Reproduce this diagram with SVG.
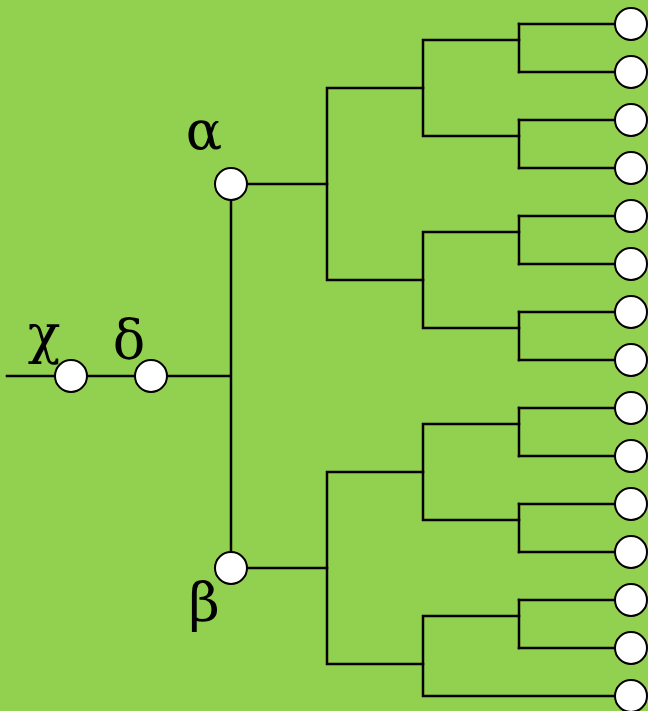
<svg xmlns="http://www.w3.org/2000/svg" width="648" height="711" viewBox="0 0 648 711">
<style>
.e{stroke:#000;stroke-width:2.5;fill:none;stroke-linecap:square}
.n{fill:#fff;stroke:#000;stroke-width:2}
.m{font-family:"DejaVu Serif","Liberation Serif",serif;font-size:54px;fill:#000;text-anchor:middle}
</style>
<rect width="648" height="711" fill="#92d050"/>
<g id="connectors" class="e">
<path d="M7,376H231M231,184V568M247,184H327M247,568H327"/>
<path d="M327,88V280M327,88H423M327,280H423M327,472V664M327,472H423M327,664H423"/>
<path d="M423,40V136M423,40H519M423,136H519M423,232V328M423,232H519M423,328H519M423,424V520M423,424H519M423,520H519M423,616V696M423,616H519M423,696H615"/>
<path d="M519,24V72M519,120V168M519,216V264M519,312V360M519,408V456M519,504V552M519,600V648"/>
<path d="M519,24H615M519,72H615M519,120H615M519,168H615M519,216H615M519,264H615M519,312H615M519,360H615M519,408H615M519,456H615M519,504H615M519,552H615M519,600H615M519,648H615"/>
</g>
<g id="chi"><circle class="n" cx="71" cy="376" r="16"/><text class="m" x="44" y="353">χ</text></g>
<g id="delta"><circle class="n" cx="151" cy="376" r="16"/><text class="m" x="129" y="358">δ</text></g>
<g id="alpha"><circle class="n" cx="231" cy="184" r="16"/><text class="m" x="204" y="149">α</text></g>
<g id="beta"><circle class="n" cx="231" cy="568" r="16"/><text class="m" x="204" y="621">β</text></g>
<g id="leaves">
<g id="leaf1"><circle class="n" cx="631" cy="24" r="16"/></g>
<g id="leaf2"><circle class="n" cx="631" cy="72" r="16"/></g>
<g id="leaf3"><circle class="n" cx="631" cy="120" r="16"/></g>
<g id="leaf4"><circle class="n" cx="631" cy="168" r="16"/></g>
<g id="leaf5"><circle class="n" cx="631" cy="216" r="16"/></g>
<g id="leaf6"><circle class="n" cx="631" cy="264" r="16"/></g>
<g id="leaf7"><circle class="n" cx="631" cy="312" r="16"/></g>
<g id="leaf8"><circle class="n" cx="631" cy="360" r="16"/></g>
<g id="leaf9"><circle class="n" cx="631" cy="408" r="16"/></g>
<g id="leaf10"><circle class="n" cx="631" cy="456" r="16"/></g>
<g id="leaf11"><circle class="n" cx="631" cy="504" r="16"/></g>
<g id="leaf12"><circle class="n" cx="631" cy="552" r="16"/></g>
<g id="leaf13"><circle class="n" cx="631" cy="600" r="16"/></g>
<g id="leaf14"><circle class="n" cx="631" cy="648" r="16"/></g>
<g id="leaf15"><circle class="n" cx="631" cy="696" r="16"/></g>
</g>
</svg>
